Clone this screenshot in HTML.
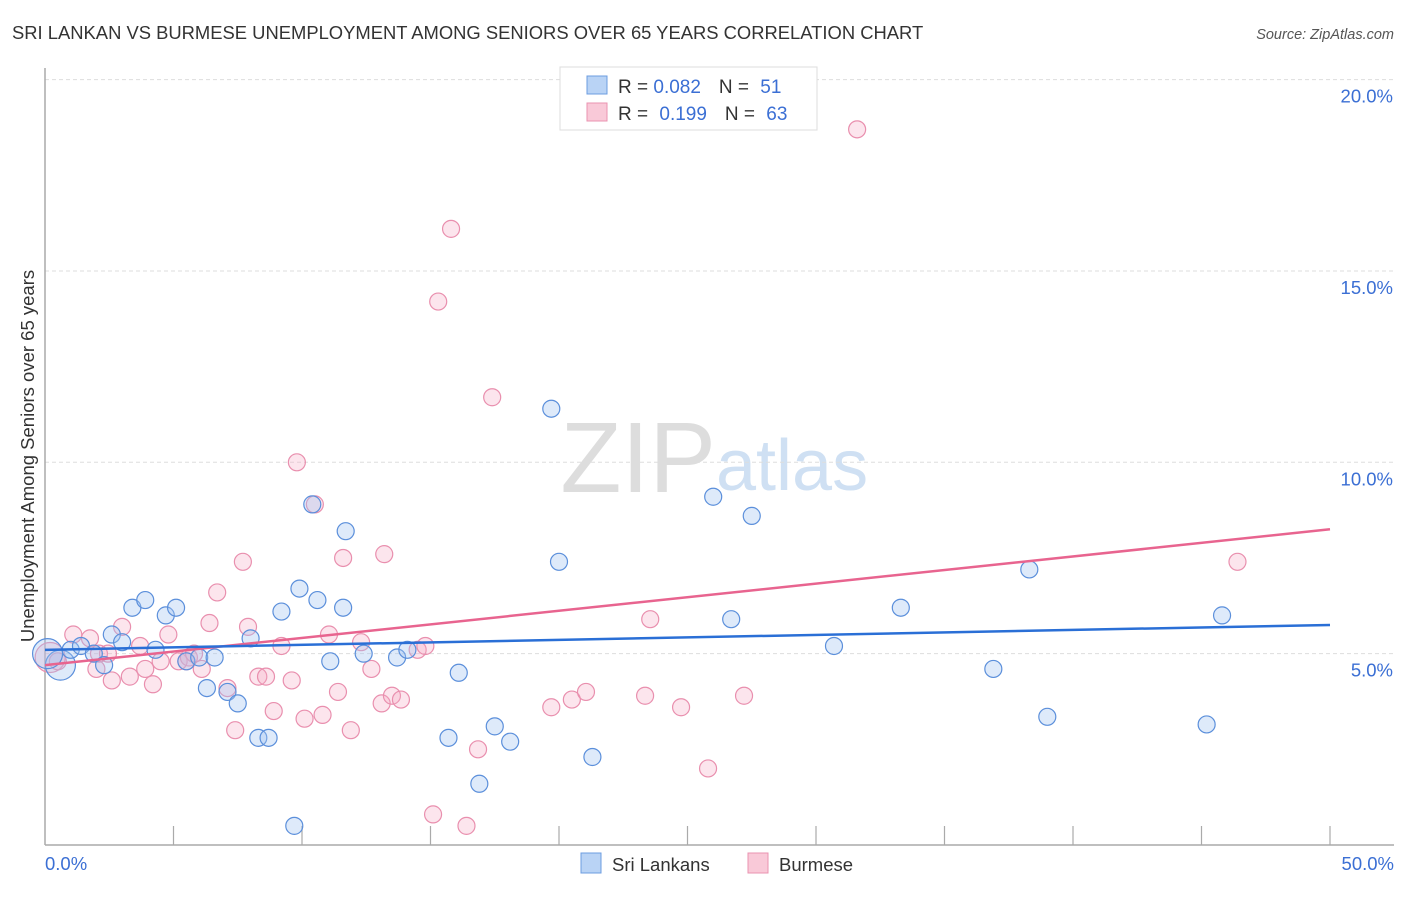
<!DOCTYPE html>
<html><head><meta charset="utf-8"><style>
body{margin:0;background:#fff;font-family:"Liberation Sans",sans-serif}
svg text{font-family:"Liberation Sans",sans-serif}
</style></head><body>
<svg id="c" width="1406" height="892">
<text x="12" y="39" font-size="18.4" fill="#333">SRI LANKAN VS BURMESE UNEMPLOYMENT AMONG SENIORS OVER 65 YEARS CORRELATION CHART</text>
<text x="1394" y="39" font-size="14.5" fill="#555" font-style="italic" text-anchor="end">Source: ZipAtlas.com</text>
<text x="716" y="492" font-size="100" fill="#ddd" text-anchor="end" font-family="Liberation Serif">ZIP</text>
<text x="716" y="490" font-size="72" fill="#cfe0f3">atlas</text>
<g id="grid"></g>
<line x1="45" y1="68" x2="45" y2="845" stroke="#aaa" stroke-width="1.5"/>
<line x1="45" y1="845" x2="1394" y2="845" stroke="#aaa" stroke-width="1.5"/>
<text transform="translate(34,456) rotate(-90)" font-size="18.5" fill="#333" text-anchor="middle">Unemployment Among Seniors over 65 years</text>
<text x="45" y="870" font-size="18.5" fill="#3b6fd4">0.0%</text>
<text x="1394" y="870" font-size="18.5" fill="#3b6fd4" text-anchor="end">50.0%</text>
<g id="pts"></g>
<g id="lines"></g>
<g>
<rect x="560" y="67" width="257" height="63" fill="#fff" stroke="#ddd"/>
<rect x="587" y="76" width="20" height="18" fill="#b9d3f5" stroke="#6c9ce0"/>
<rect x="587" y="103" width="20" height="18" fill="#f9c9d8" stroke="#ea93b0"/>
<text x="618" y="93" font-size="19" fill="#333">R = <tspan fill="#3b6fd4">0.082</tspan><tspan dx="18">N = </tspan><tspan fill="#3b6fd4" dx="6">51</tspan></text>
<text x="618" y="120" font-size="19" fill="#333">R = <tspan fill="#3b6fd4" dx="6">0.199</tspan><tspan dx="18">N = </tspan><tspan fill="#3b6fd4" dx="6">63</tspan></text>
</g>
<g>
<rect x="581" y="853" width="20" height="20" fill="#b9d3f5" stroke="#6c9ce0"/>
<text x="612" y="871" font-size="18.5" fill="#333">Sri Lankans</text>
<rect x="748" y="853" width="20" height="20" fill="#f9c9d8" stroke="#ea93b0"/>
<text x="779" y="871" font-size="18.5" fill="#333">Burmese</text>
</g>
</svg>
<script>
const yTicks=[5,10,15,20];
const yTickLabels=["5.0%","10.0%","15.0%","20.0%"];
const xTicks=[5,10,15,20,25,30,35,40,45,50];
const blueX=[0.6,0.1,1,1.4,1.9,2.3,2.6,3,3.4,3.9,4.3,4.7,5.1,5.5,6,6.6,6.3,7.1,7.5,8,8.3,8.7,9.2,9.9,10.4,10.6,11.1,11.6,11.7,12.4,13.7,14.1,15.7,16.1,16.9,17.5,18.1,19.7,20,21.3,9.7,26,26.7,27.5,30.7,33.3,36.9,38.3,39,45.2,45.8];
const blueY=[4.7,5,5.1,5.2,5,4.7,5.5,5.3,6.2,6.4,5.1,6,6.2,4.8,4.9,4.9,4.1,4,3.7,5.4,2.8,2.8,6.1,6.7,8.9,6.4,4.8,6.2,8.2,5,4.9,5.1,2.8,4.5,1.6,3.1,2.7,11.4,7.4,2.3,0.5,9.1,5.9,8.6,5.2,6.2,4.6,7.2,3.35,3.15,6];
const pinkX=[0.2,0.5,1.1,1.75,2.1,2,2.45,2.6,3,3.3,3.7,3.9,4.2,4.5,4.8,5.2,5.6,5.8,6.1,6.4,6.7,7.1,7.4,7.7,7.9,8.3,8.6,8.9,9.2,9.6,9.8,10.1,10.5,10.8,11.05,11.4,11.6,11.9,12.3,12.7,13.1,13.2,13.5,13.85,14.5,14.8,15.1,15.3,15.8,16.4,16.85,17.4,19.7,20.5,21.05,23.35,23.55,24.75,25.8,27.2,31.6,46.4,5.5];
const pinkY=[4.9,4.8,5.5,5.4,5,4.6,5,4.3,5.7,4.4,5.2,4.6,4.2,4.8,5.5,4.8,4.9,5,4.6,5.8,6.6,4.1,3,7.4,5.7,4.4,4.4,3.5,5.2,4.3,10,3.3,8.9,3.4,5.5,4,7.5,3,5.3,4.6,3.7,7.6,3.9,3.8,5.1,5.2,0.8,14.2,16.1,0.5,2.5,11.7,3.6,3.8,4,3.9,5.9,3.6,2,3.9,18.7,7.4,4.8];
const blueBig=[0,1], pinkBig=[0];
const blueTrend=[5.1,5.75], pinkTrend=[4.7,8.25];
const X=v=>45+v*25.7, Y=v=>845-v*38.27;
const NS="http://www.w3.org/2000/svg";
const grid=document.getElementById('grid');
yTicks.forEach((t,i)=>{
 const l=document.createElementNS(NS,'line');
 l.setAttribute('x1',45);l.setAttribute('x2',1394);l.setAttribute('y1',Y(t));l.setAttribute('y2',Y(t));
 l.setAttribute('stroke','#ddd');l.setAttribute('stroke-dasharray','4,3');
 
 
 grid.appendChild(l);
 const tx=document.createElementNS(NS,'text');
 tx.setAttribute('x',1393);tx.setAttribute('y',Y(t)+23);tx.setAttribute('font-size','18.5');
 tx.setAttribute('fill','#3b6fd4');tx.setAttribute('text-anchor','end');tx.textContent=yTickLabels[i];
 
 
 grid.appendChild(tx);
});
xTicks.forEach(t=>{
 const l=document.createElementNS(NS,'line');
 l.setAttribute('x1',X(t));l.setAttribute('x2',X(t));l.setAttribute('y1',826);l.setAttribute('y2',845);
 l.setAttribute('stroke','#aaa');l.setAttribute('stroke-width','1.2');
 
 
 grid.appendChild(l);
});
const pts=document.getElementById('pts');
function dots(xs,ys,big,fill,stroke,name){
 xs.forEach((x,i)=>{
  const c=document.createElementNS(NS,'circle');
  c.setAttribute('cx',X(x));c.setAttribute('cy',Y(ys[i]));c.setAttribute('r',big.includes(i)?15:8.5);
  c.setAttribute('fill',fill);c.setAttribute('stroke',stroke);c.setAttribute('stroke-width','1.2');
  
  
  pts.appendChild(c);
 });
}
dots(pinkX,pinkY,pinkBig,'rgba(244,168,194,0.3)','#e98fae','burmese-point');
dots(blueX,blueY,blueBig,'rgba(160,196,240,0.35)','#5b8fdb','srilankan-point');
const lines=document.getElementById('lines');
function trend(v,col,name){
 const l=document.createElementNS(NS,'line');
 l.setAttribute('x1',X(0));l.setAttribute('x2',X(50));l.setAttribute('y1',Y(v[0]));l.setAttribute('y2',Y(v[1]));
 l.setAttribute('stroke',col);l.setAttribute('stroke-width','2.5');
 
 
 lines.appendChild(l);
}
trend(pinkTrend,'#e8648f','burmese-trendline');
trend(blueTrend,'#2a6fd6','srilankan-trendline');
</script>
</body></html>
